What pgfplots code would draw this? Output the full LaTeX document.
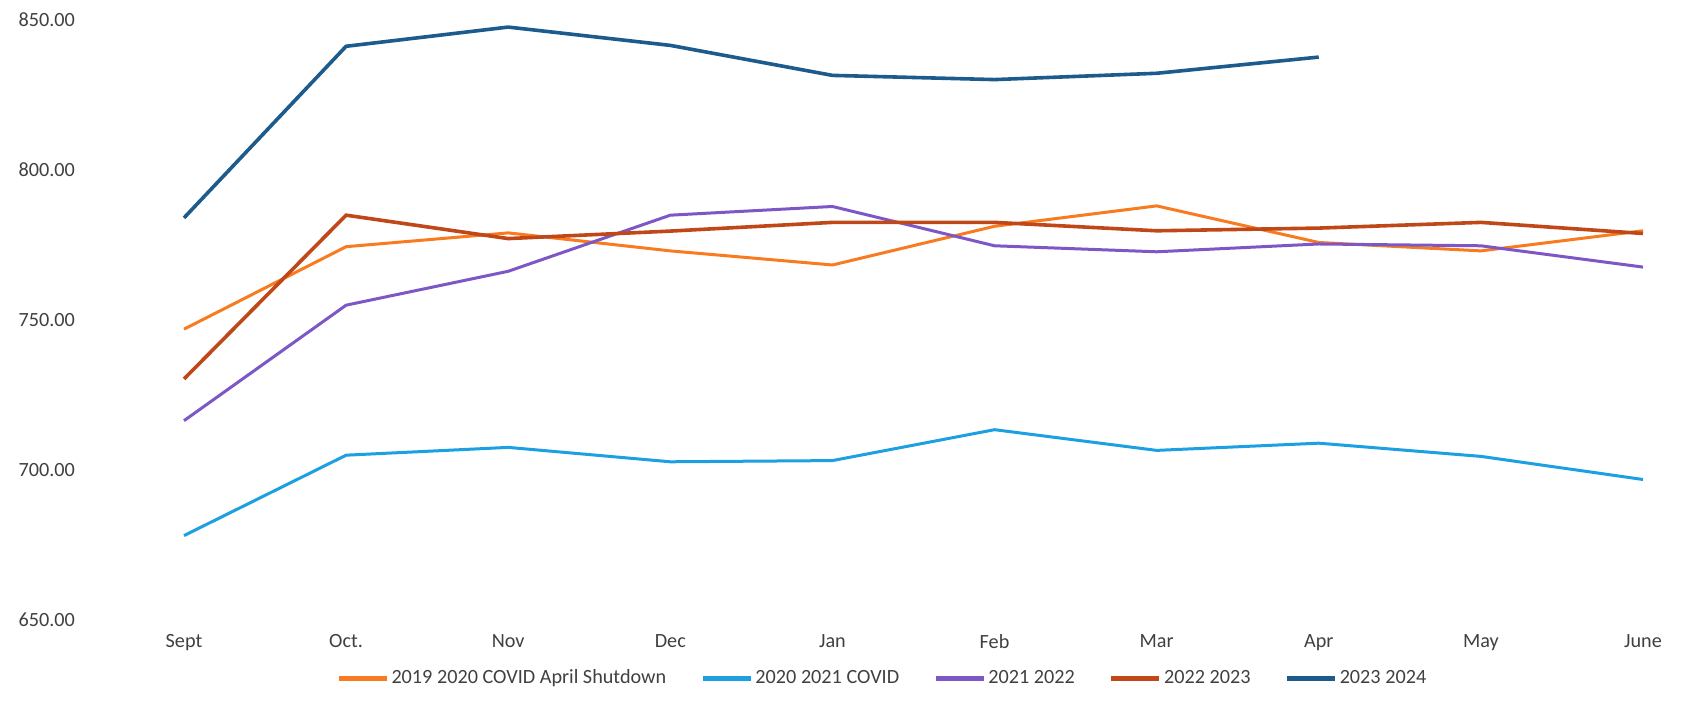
\documentclass[border=0pt]{standalone}
\usepackage{pgfplots}
\pgfplotsset{compat=1.18}
\usepackage{fontspec}
\setmainfont{Carlito}
\definecolor{cOrange}{HTML}{F97B1F}
\definecolor{cLBlue}{HTML}{1CA0E2}
\definecolor{cPurple}{HTML}{7E57C6}
\definecolor{cBrick}{HTML}{C04818}
\definecolor{cNavy}{HTML}{1D5B8C}
\definecolor{cText}{HTML}{404040}
\begin{document}
\begin{tikzpicture}
\begin{axis}[
  name=ax,
  scale only axis,
  width=729.5pt, height=300pt,
  xmin=0, xmax=9, ymin=650, ymax=850,
  xtick={0,...,9},
  xticklabels={Sept,Oct.,Nov,Dec,Jan,Feb,Mar,Apr,May,June},
  ytick={650,700,750,800,850},
  axis line style={draw=none},
  tick style={draw=none},
  clip=false,
  font=\fontsize{10.1}{12}\selectfont,
  every tick label/.append style={text=cText},
  yticklabel style={anchor=east, xshift=-51pt, /pgf/number format/.cd, fixed, fixed zerofill, precision=2, assume math mode=true},
  xticklabel style={yshift=-4pt},
  legend columns=-1,
  legend style={draw=none, fill=none, at={(0.100,-0.098)}, anchor=west,
    font=\fontsize{10.1}{12}\selectfont, text=cText,
    /tikz/every even column/.append style={column sep=16pt},
    nodes={inner sep=1pt}},
  legend image code/.code={\draw[#1, line width=2.6pt] (0pt,0pt) -- (24pt,0pt);},
]
\addplot[cOrange, line width=1.5pt] coordinates {
(0,746.8) (1,774.3) (2,778.9) (3,772.9) (4,768.2) (5,781.1) (6,787.9) (7,775.7) (8,772.9) (9,779.6)};
\addlegendentry{2019 2020 COVID April Shutdown}
\addplot[cLBlue, line width=1.5pt] coordinates {
(0,678.0) (1,704.8) (2,707.4) (3,702.6) (4,703.0) (5,713.3) (6,706.4) (7,708.8) (8,704.4) (9,696.7)};
\addlegendentry{2020 2021 COVID}
\addplot[cPurple, line width=1.5pt] coordinates {
(0,716.3) (1,754.8) (2,766.1) (3,784.8) (4,787.7) (5,774.6) (6,772.6) (7,775.2) (8,774.6) (9,767.5)};
\addlegendentry{2021 2022}
\addplot[cBrick, line width=1.8pt] coordinates {
(0,730.2) (1,784.8) (2,777.0) (3,779.5) (4,782.4) (5,782.4) (6,779.6) (7,780.5) (8,782.4) (9,778.7)};
\addlegendentry{2022 2023}
\addplot[cNavy, line width=1.8pt] coordinates {
(0,783.9) (1,841.1) (2,847.5) (3,841.4) (4,831.4) (5,830.0) (6,832.1) (7,837.5)};
\addlegendentry{2023 2024}
\end{axis}
\pgfresetboundingbox
\path[use as bounding box] ([xshift=-92pt, yshift=309.8pt]ax.south west) rectangle ([xshift=748.5pt, yshift=-42.2pt]ax.south west);
\end{tikzpicture}
\end{document}
